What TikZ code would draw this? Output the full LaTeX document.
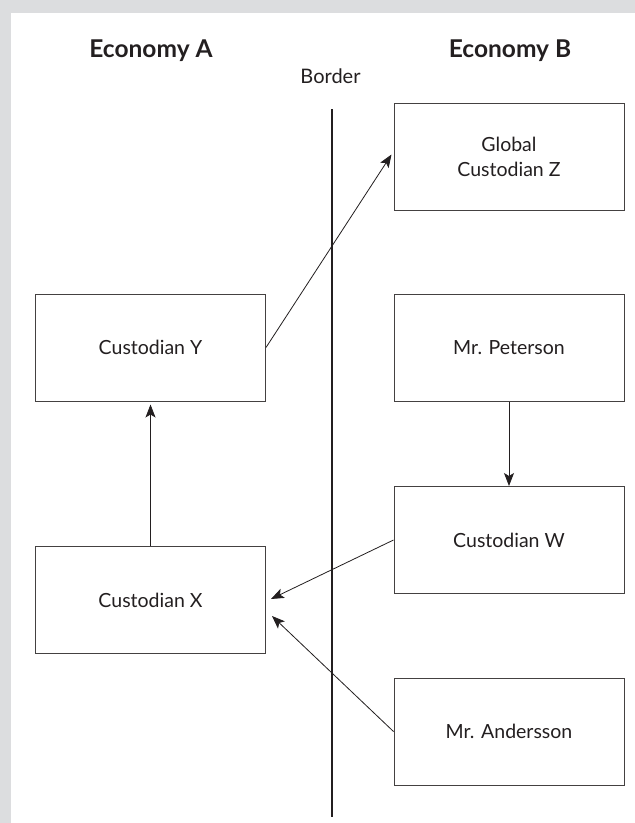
\documentclass[tikz,border=0pt]{standalone}
\usepackage{fontspec}
\setmainfont{Lato}
\usetikzlibrary{arrows.meta,calc}
\definecolor{bggray}{HTML}{DCDDDF}
\definecolor{ink}{HTML}{231F20}
\tikzset{
  box/.style={draw=ink!85, line width=1pt, minimum width=230pt, minimum height=107pt,
    align=center, font=\fontsize{19.5}{25}\selectfont, text=ink, inner sep=0pt},
  head/.style={font=\bfseries\fontsize{24.5}{28}\selectfont, text=ink, inner sep=0pt},
  conn/.style={draw=ink, line width=0.8pt, -{Stealth[length=13pt,width=10pt,inset=3pt]}},
}
\begin{document}
\begin{tikzpicture}[x=1pt,y=-1pt]
\useasboundingbox (0,0) rectangle (635,823);
\fill[bggray] (0,0) rectangle (635,823);
\fill[white] (11,13) rectangle (635,823);

\node[head] (ecA) at (151,51) {Economy A};
\node[head] (ecB) at (510,51) {Economy B};
\node[font=\fontsize{20}{24}\selectfont, text=ink, inner sep=0pt] (bord) at (330.5,76) {Border};

\coordinate (btop) at (332,109);
\coordinate (bbot) at (332,817);
\draw[ink, line width=2.6pt] (btop) -- (bbot);

\node[box] (z) at (509,156.5) {Global\\Custodian Z};
\node[box] (y) at (150.5,347.5) {Custodian Y};
\node[box] (p) at (509,348) {Mr. Peterson};
\node[box] (w) at (509,540) {Custodian W};
\node[box] (x) at (150.5,600) {Custodian X};
\node[box] (a) at (509,731.5) {Mr. Andersson};

\coordinate (zin) at ($(z.west)+(-2,-2)$);
\coordinate (xinw) at ($(x.east)+(5,-1)$);
\coordinate (xina) at ($(x.east)+(6,16)$);
\coordinate (yin) at ($(y.south)+(0,3)$);

\draw[conn] (y.east) -- (zin);
\draw[conn] (p.south) -- (w.north);
\draw[conn] (x.north) -- (yin);
\draw[conn] (w.west) -- (xinw);
\draw[conn] (a.west) -- (xina);
\end{tikzpicture}
\end{document}
